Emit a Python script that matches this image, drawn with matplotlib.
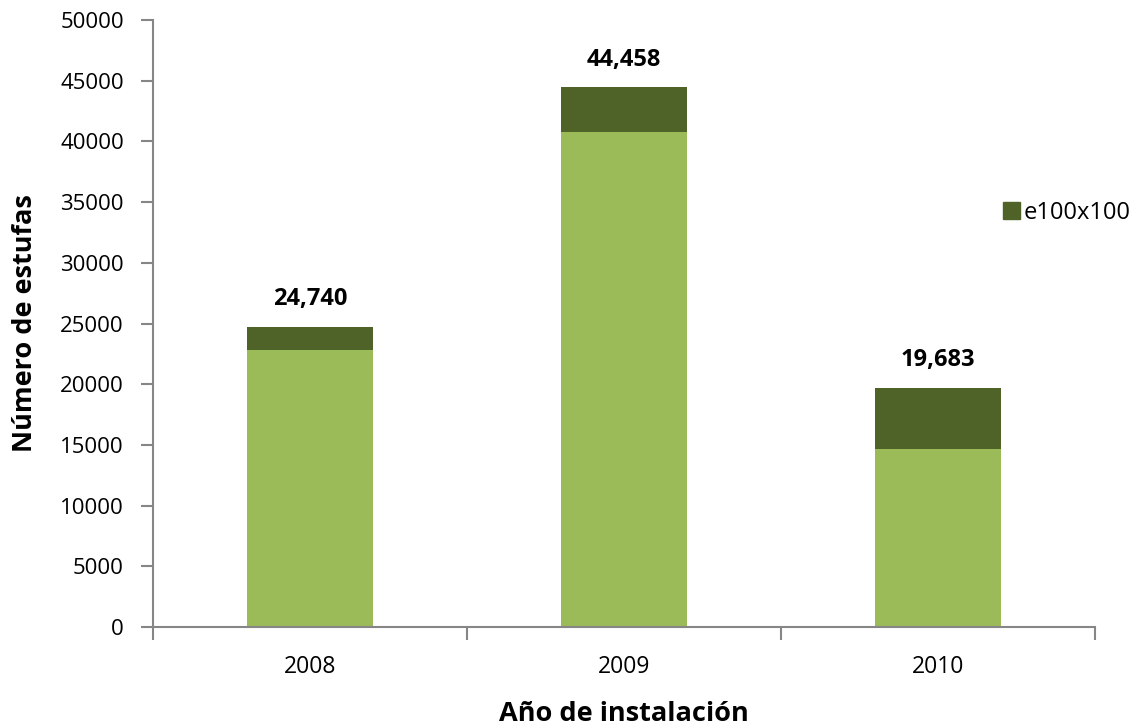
import numpy as np
import matplotlib.pyplot as plt
from matplotlib.patches import Patch

plt.rc("font", family=["Open Sans", "DejaVu Sans"], size=16)

years = ["2008", "2009", "2010"]
base = [22800, 40800, 14650]        # lower (light green) part
e100 = [1940, 3658, 5033]           # e100x100 (dark green) part
totals = [24740, 44458, 19683]

light = "#9bbb59"
dark = "#4f6228"
axcol = "#868686"

fig = plt.figure(figsize=(11.36, 7.28), dpi=100)
ax = fig.add_axes([0.1347, 0.1387, 0.8293, 0.8338])

x = np.arange(len(years))
ax.bar(x, base, width=0.40, color=light, edgecolor="none")
ax.bar(x, e100, width=0.40, bottom=base, color=dark, edgecolor="none")

for xi, t in zip(x, totals):
    ax.text(xi, t + 1300, f"{t:,}", ha="center", va="bottom",
            fontsize=17, fontweight="bold")

ax.set_xlim(-0.5, 2.5)
ax.set_ylim(0, 50000)
ax.set_yticks(np.arange(0, 50001, 5000))
ax.set_xticks([-0.5, 0.5, 1.5, 2.5])
ax.set_xticklabels([])
ax.set_xticks(x, minor=True)
ax.set_xticklabels(years, minor=True, fontsize=16.5)
ax.tick_params(axis="x", which="minor", length=0, pad=20)
ax.tick_params(axis="x", which="major", length=9, width=1.5, color=axcol, direction="out")
ax.tick_params(axis="y", length=9, width=1.5, color=axcol, direction="out", pad=12)

for s in ["top", "right"]:
    ax.spines[s].set_visible(False)
for s in ["left", "bottom"]:
    ax.spines[s].set_color(axcol)
    ax.spines[s].set_linewidth(1.5)

ax.set_ylabel("Número de estufas", fontsize=19.5, fontweight="bold", labelpad=16)
ax.set_xlabel("Año de instalación", fontsize=19.5, fontweight="bold", labelpad=16)

ax.legend(handles=[Patch(color=dark, label="e100x100")], loc="center left",
          bbox_to_anchor=(0.902, 0.682), frameon=False, fontsize=17,
          borderaxespad=0, borderpad=0,
          handlelength=0.75, handleheight=0.75, handletextpad=0.15)

fig.savefig("out.png", dpi=100)
